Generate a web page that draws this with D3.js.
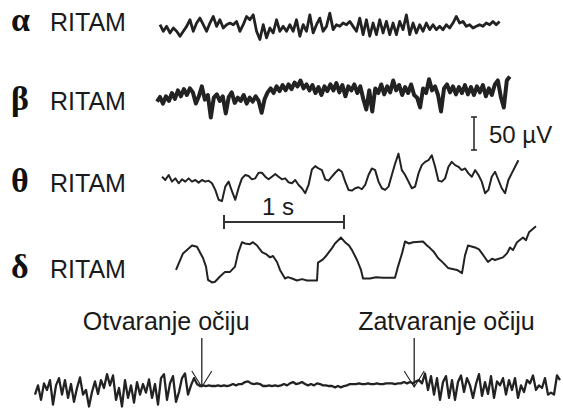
<!DOCTYPE html>
<html>
<head>
<meta charset="utf-8">
<script src="https://cdn.jsdelivr.net/npm/d3@7"></script>
<style>
  body { margin: 0; background: #fff; }
</style>
</head>
<body>
<div id="chart"></div>
<script>
const rhythmNames = ["α", "β", "θ", "δ"];
const rhythmLabel = "RITAM";

const alphaDur = 2.83; // s
const alphaUV = [5, -5, 2.5, -7.5, 0, -5, -12.5, -5, 2.5, 12.5, -5, 7.5, 15, 5, -5, 7.5, 17.5, 2.5, 12.5, 0,
  5, 7.5, 5, 10, -5, 5, 17.5, 12.5, 20, -5, -17.5, 5, -15, 0, -7.5, 12.5, -5, 2.5, -5, 5,
  -5, 12.5, -12.5, 5, -5, 20, -7.5, 5, 15, -5, 2.5, 22.5, -2.5, 5, 2.5, 7.5, 5, 10,
  2.5, -5, 15, -10, 12.5, -12.5, 7.5, -10, 12.5, -7.5, 10, -10, 7.5, -10, 10, -2.5, 20, -10, 7.5, -7.5,
  5, -5, 7.5, -2.5, 5, -2.5, 2.5, -2.5, 5, 0, 7.5, 17.5, 7.5, 10, 2.5, 5, 0, 2.5, 5, 2.5, 7.5, 5, 10, 5, 10];

const betaDur = 2.94;
const betaUV = [-10, -3, -13, -2, -9, 3, -6, 7, -2, 9, 0, 10, 4, -13, -2, 13, -7, 0, -34, -4,
  1, -9, -2, -28, -3, 4, -12, -4, -9, 0, -13, -4, -10, -2, -9, -27, -6, 4, 10, 3,
  13, 6, 15, 7, 16, 9, 19, 13, 22, 10, 16, 7, 15, 3, 12, 0, 13, 6, 16, 7,
  18, 4, 15, -2, 13,
  7, 16, 3, 13, -6, -22, 7, -25, 10, 3, 16, 1, 13, 4, 22, 7, 15, 0, 12, 3,
  16, 0, -4, -19, 10, 3, 24, 7, 13, 0, -25, 10, 16, 4, 13, 1, 12, 3, 15, 1,
  12, 0, 13, 4, 15, -2, 10, 0, 16, 22, -3, -19, 22, 28];

const thetaDur = 2.97;
const thetaUV = [5, 0, 7.5, -2.5, 2.5, -5, 1, -2.5, 2.5, -2.5, 0, -4, 0, -2.5, -1, -5, -15, -30, -32, -10,
  -2.5, -17, -30, -12, 2.5, 7.5, 6, 1, 2.5, 11, 11, 5, 1, 5, 9, 5, 1, 2.5, -3.5, -5,
  0, -7.5, -12.5, -20, -7.5, 16, 21, 17.5, 15, 1, -1, 5, 11, 16, 12.5, -2.5, -15, -16, -12.5, -11,
  -14, -7.5, 7.5, 17.5, 15, -2.5, -12.5, -15, -10, 7.5, 25, 40, 15, 7.5, -2.5, -12.5, -10, 10, 22.5, 27.5,
  30, 37.5, 20, -1, -2.5, 2.5, 20, 27.5, 22.5, 20, 15, 17.5, 10, 5, 15, 7.5, -2.5, -20, -15, 5,
  12.5, 0, -12.5, -20, 0, 10, 20, 30];

// delta: [sample at 120 Hz, µV]
const deltaPts = [[0, -15], [7, 10], [16, 22], [21, 20], [27, 3], [30, -10], [32, -30], [36, -34], [39, -33], [44, -25],
  [49, -18], [54, -18], [59, -10], [62, 10], [66, 27], [69, 25], [74, 24], [77, 27], [81, 22], [86, 12],
  [90, 9], [94, 4], [97, 6], [101, -3], [104, -15], [109, -28], [112, -26], [116, -28], [121, -31], [126, -29],
  [131, -31], [141, -31], [142, -4], [147, 1], [150, 6], [152, 10], [156, 18], [159, 25], [165, 34], [169, 27],
  [173, 22], [176, 15], [181, 0], [185, -15], [187, -28], [194, -28], [200, -26], [207, -27], [219, -27], [222, -10],
  [226, 10], [229, 28], [233, 25], [237, 27], [247, 28], [251, 22], [254, 18], [258, 12], [262, 3], [267, -4],
  [272, -12], [281, -15], [286, -20], [289, 7], [292, 22], [299, 19], [303, 16], [306, 10], [312, -3], [316, 2],
  [319, 0], [327, 4], [331, 10], [334, 19], [337, 15], [341, 27], [347, 34], [350, 30], [353, 42], [360, 51]];

// eyes open / closed record
const eyesDur = 4.375;
const eyesUV = [-10, 4, -18, 7, -3, 12, -25, 4, 15, -10, 12, -15, 6, -21, 0, 16, -10, -3, -28, -6,
  10, -9, 12, 0, 21, 4, 19, -18, 0, -28, 12, -15, 4, -22, 9, -10, 6, -7, 13, -15,
  6, -25, 15, 21, -18, 7, 18, -21, -6, 15, 22, -10, 4, 15, 6, 3,
  4, 3, 4, 3, 3, 4, 3, 4, 3, 4, 6, 4, 6, 6, 9, 10, 7, 6, 7, 6,
  3, 3, 4, 3, 4, 3, 4, 6, 4, 7, 9, 6, 7, 9, 6, 4, 6, 4, 7, 6,
  4, 4, 3, 3, 1, 3, 1, 3, 4, 6, 6, 6, 7, 6, 6, 7, 6, 6, 7, 6,
  6, 7, 7, 7, 6, 7, 7, 9, 7, 9, 7, 10, 12,
  7, 22, -3, 18, -10, 15, -18, 9, 18, -15, 12, -18, 9, 19, -6, 15, 4, -15, 6, 21,
  -12, 9, -9, 18, -15, 10, 4, 15, -10, 12, -3, 15, -15, 4, -6, 12, 7, 19, -3, 4,
  0, 15, -10, -7, -10, 19, 12];

const eventLabels = ["Otvaranje očiju", "Zatvaranje očiju"];
const eventTimes = [1.39, 3.16]; // s from start of the eyes record
const scaleBarUV = 50;
const scaleBarSec = 1;

const width = 563, height = 415;
const svg = d3.select("#chart").append("svg")
  .attr("width", width)
  .attr("height", height);

// one time scale and one amplitude scale for every trace
const x = d3.scaleLinear().domain([0, 1]).range([0, 120]);
const y = d3.scaleLinear().domain([0, 50]).range([0, -33]);

const traces = [
  { vals: alphaUV, dur: alphaDur, left: 160, base: 28, w: 2.8 },
  { vals: betaUV, dur: betaDur, left: 157, base: 95, w: 4 },
  { vals: thetaUV, dur: thetaDur, left: 162, base: 180, w: 2 },
  { pts: deltaPts, fs: 120, left: 176, base: 260, w: 2 },
  { vals: eyesUV, dur: eyesDur, left: 35, base: 388, w: 2.3 }
];

traces.forEach(tr => {
  let pts;
  if (tr.vals) {
    const dt = tr.dur / (tr.vals.length - 1);
    pts = tr.vals.map((v, i) => [i * dt, v]);
  } else {
    pts = tr.pts.map(p => [p[0] / tr.fs, p[1]]);
  }
  const line = d3.line()
    .x(d => tr.left + x(d[0]))
    .y(d => tr.base + y(d[1]));
  svg.append("path")
    .attr("d", line(pts))
    .attr("fill", "none")
    .attr("stroke", "#222")
    .attr("stroke-width", tr.w)
    .attr("stroke-linejoin", "round");
});

// row labels
const labelY = [31, 110, 192, 278];
rhythmNames.forEach((g, i) => {
  svg.append("text")
    .attr("x", 11).attr("y", labelY[i])
    .style("font-family", "'Liberation Serif', 'Times New Roman', serif")
    .style("font-weight", "bold")
    .style("font-size", "34px")
    .attr("fill", "#111")
    .text(g);
  svg.append("text")
    .attr("x", 50).attr("y", labelY[i])
    .style("font-family", "'Liberation Sans', Arial, sans-serif")
    .style("font-size", "25px")
    .attr("fill", "#1a1a1a")
    .text(rhythmLabel);
});

const txt = (sx, sy, s) => svg.append("text")
  .attr("x", sx).attr("y", sy)
  .style("font-family", "'Liberation Sans', Arial, sans-serif")
  .style("font-size", "24px")
  .attr("fill", "#1a1a1a")
  .text(s);

// 50 µV bar
const vx = 474, vTop = 117;
svg.append("line").attr("x1", vx).attr("x2", vx).attr("y1", vTop).attr("y2", vTop - y(scaleBarUV))
  .attr("stroke", "#222").attr("stroke-width", 1.5);
svg.append("line").attr("x1", vx - 3).attr("x2", vx + 3).attr("y1", vTop).attr("y2", vTop)
  .attr("stroke", "#222").attr("stroke-width", 1.5);
svg.append("line").attr("x1", vx - 3).attr("x2", vx + 3).attr("y1", vTop - y(scaleBarUV)).attr("y2", vTop - y(scaleBarUV))
  .attr("stroke", "#222").attr("stroke-width", 1.5);
txt(489, 143, "50 µV");

// 1 s bar
const hx = 224, hy = 222;
svg.append("line").attr("x1", hx).attr("x2", hx + x(scaleBarSec)).attr("y1", hy).attr("y2", hy)
  .attr("stroke", "#333").attr("stroke-width", 2);
[hx, hx + x(scaleBarSec)].forEach(px => svg.append("line")
  .attr("x1", px).attr("x2", px).attr("y1", hy - 7).attr("y2", hy + 7)
  .attr("stroke", "#333").attr("stroke-width", 2));
txt(262, 215, "1 s");

// eye events
const eyes = traces[4];
const labelShift = [-119, -56];
eventTimes.forEach((t, i) => {
  const ax = eyes.left + x(t);
  svg.append("line").attr("x1", ax).attr("x2", ax).attr("y1", 338).attr("y2", 387)
    .attr("stroke", "#222").attr("stroke-width", 1.3);
  svg.append("path")
    .attr("d", `M${ax - 10},${371} L${ax},${387} L${ax + 10},${371}`)
    .attr("fill", "none").attr("stroke", "#222").attr("stroke-width", 1.1);
  svg.append("text")
    .attr("x", ax + labelShift[i]).attr("y", 330)
    .style("font-family", "'Liberation Sans', Arial, sans-serif")
    .style("font-size", "25px")
    .attr("fill", "#1a1a1a")
    .text(eventLabels[i]);
});
</script>
</body>
</html>
